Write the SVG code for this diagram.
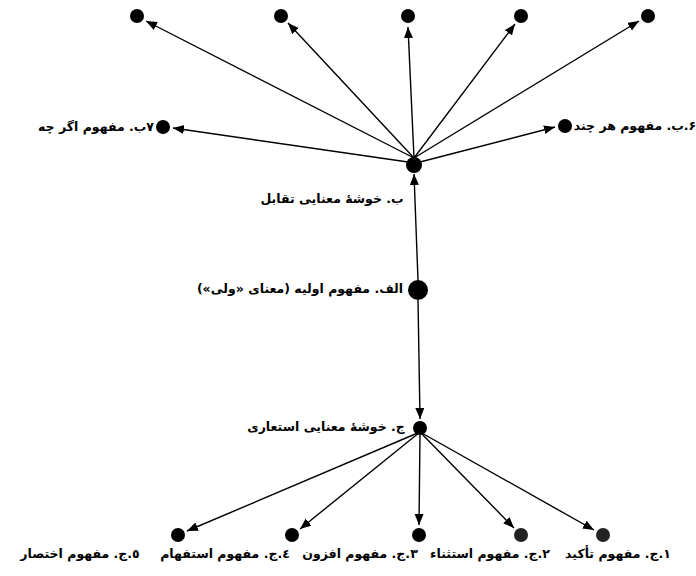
<svg xmlns="http://www.w3.org/2000/svg" width="696" height="576" viewBox="0 0 696 576">
<defs>
<marker id="ah" markerWidth="12" markerHeight="10" refX="11" refY="4.5" orient="auto" markerUnits="userSpaceOnUse">
<path d="M0,0 L11,4.5 L0,9 z" fill="#000"/>
</marker>
<style>
.n{fill:#000}
.e{stroke:#000;stroke-width:1.4;fill:none;marker-end:url(#ah)}
.t{font-family:"DejaVu Sans",sans-serif;font-weight:bold;font-size:12.5px;fill:#000;text-anchor:middle;direction:rtl;unicode-bidi:embed}
</style>
</defs>
<rect width="696" height="576" fill="#fff"/>
<g id="connectors">
<line class="e" x1="414" y1="158" x2="146" y2="21"/>
<line class="e" x1="414" y1="158" x2="288" y2="23"/>
<line class="e" x1="414" y1="158" x2="408" y2="27"/>
<line class="e" x1="414" y1="158" x2="515" y2="24"/>
<line class="e" x1="414" y1="158" x2="639" y2="21"/>
<line class="e" x1="408" y1="162" x2="173" y2="128"/>
<line class="e" x1="420" y1="162" x2="555" y2="127"/>
<line class="e" x1="418" y1="280" x2="414" y2="174"/>
<line class="e" x1="418" y1="300" x2="420" y2="419"/>
<line class="e" x1="420" y1="432" x2="187" y2="531"/>
<line class="e" x1="420" y1="432" x2="300" y2="529"/>
<line class="e" x1="420" y1="434" x2="419" y2="525"/>
<line class="e" x1="420" y1="432" x2="514" y2="528"/>
<line class="e" x1="420" y1="432" x2="594" y2="530"/>
</g>
<g id="top1"><circle class="n" cx="137" cy="16" r="7"/></g>
<g id="top2"><circle class="n" cx="281" cy="16" r="7"/></g>
<g id="top3"><circle class="n" cx="408" cy="16" r="7"/></g>
<g id="top4"><circle class="n" cx="521" cy="16" r="7"/></g>
<g id="top5"><circle class="n" cx="648" cy="16" r="7"/></g>
<g id="b7"><circle class="n" cx="163" cy="127" r="7"/><text class="t" x="96" y="131">۷ب. مفهوم اگر چه</text></g>
<g id="b6"><circle class="n" cx="565" cy="126" r="7"/><text class="t" x="635" y="130" font-size="12">۶.ب. مفهوم هر چند</text></g>
<g id="b"><circle class="n" cx="414" cy="165" r="8"/><text class="t" x="332" y="203">ب.  خوشهٔ معنایی تقابل</text></g>
<g id="alef"><circle class="n" cx="418" cy="290" r="10"/><text class="t" x="300" y="293">الف. مفهوم اولیه (معنای «ولی»)</text></g>
<g id="jim"><circle class="n" cx="420" cy="428" r="7"/><text class="t" x="326" y="431">ج. خوشهٔ معنایی استعاری</text></g>
<g id="j5"><circle class="n" cx="178" cy="535" r="7"/><text class="t" x="80" y="558">٥.ج. مفهوم اختصار</text></g>
<g id="j4"><circle class="n" cx="292" cy="535" r="7"/><text class="t" x="225" y="558">٤.ج. مفهوم استفهام</text></g>
<g id="j3"><circle class="n" cx="419" cy="535" r="7"/><text class="t" x="360" y="558">۳.ج. مفهوم افزون</text></g>
<g id="j2"><circle fill="#222" cx="521" cy="535" r="7"/><text class="t" x="490" y="558">۲.ج. مفهوم استثناء</text></g>
<g id="j1"><circle fill="#222" cx="603" cy="535" r="7"/><text class="t" x="618" y="558">۱.ج. مفهوم تأکید</text></g>
</svg>
